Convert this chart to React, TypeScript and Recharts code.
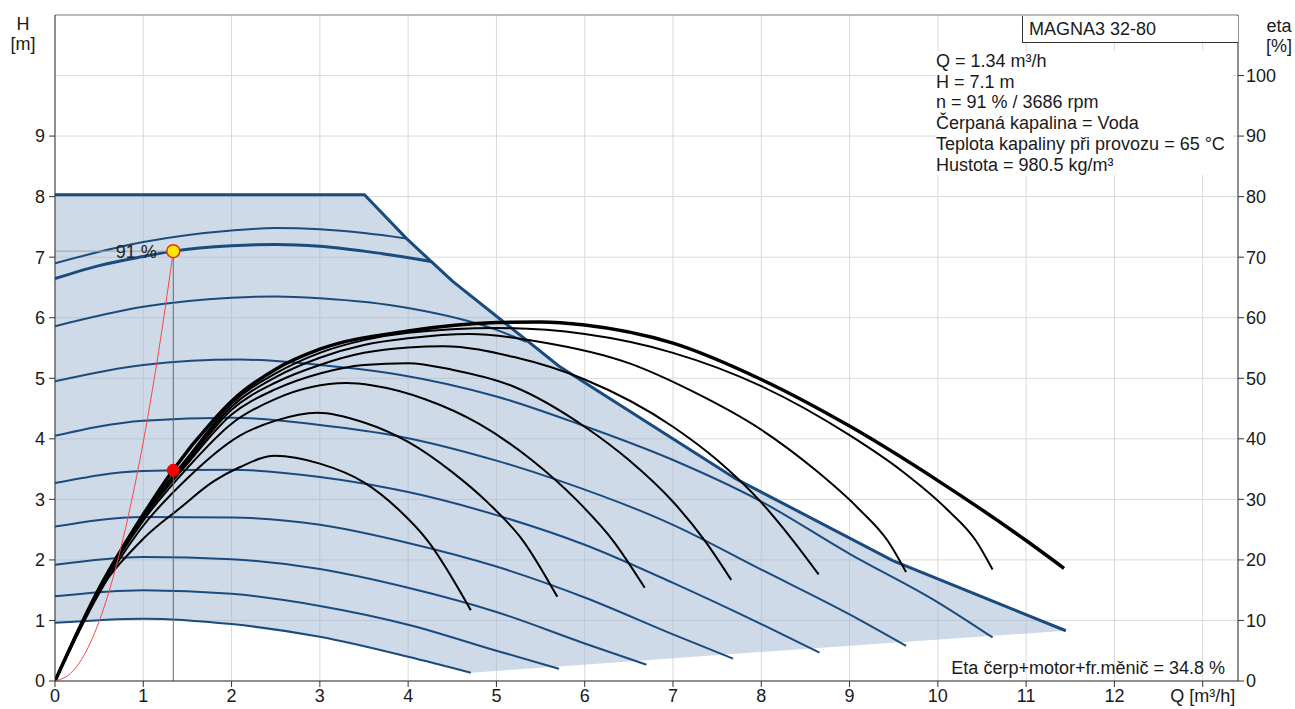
import React from 'react';
import {
  ComposedChart,
  Line,
  Area,
  XAxis,
  YAxis,
  CartesianGrid,
  ReferenceDot,
  ReferenceLine,
} from 'recharts';

type Pt = [number, number];

// axes
const qTicks = [0, 1, 2, 3, 4, 5, 6, 7, 8, 9, 10, 11, 12, 13];
const hTicks = [0, 1, 2, 3, 4, 5, 6, 7, 8, 9];
const etaTicks = [0, 10, 20, 30, 40, 50, 60, 70, 80, 90, 100];

// shaded operating range (low / high boundary, H in m)
const rangeQ = [0, 1, 2, 3, 3.505, 3.98, 4.26, 4.505, 4.71, 5.71, 7.71, 9.49, 11.45];
const rangeLow = [0.96, 1.03, 0.94, 0.73, 0.57, 0.41, 0.32, 0.22, 0.137, 0.24, 0.45, 0.63, 0.83];
const rangeHigh = [8.03, 8.03, 8.03, 8.03, 8.03, 7.31, 6.93, 6.6, 6.36, 5.2, 3.34, 1.99, 0.83];

// QH curves [Q, H]
const qhMax: Pt[] = [[0, 8.03], [3.505, 8.03], [3.98, 7.31], [4.26, 6.93], [4.505, 6.6], [5.71, 5.2], [7.71, 3.34], [9.49, 1.99], [11.45, 0.83]];
const qhA: Pt[] = [[0, 6.9], [1, 7.25], [2, 7.44], [2.5, 7.48], [3, 7.46], [3.5, 7.4], [3.98, 7.31]];
const qhDuty: Pt[] = [[0, 6.645], [0.5, 6.86], [1, 7.01], [1.34, 7.1], [2, 7.19], [2.5, 7.21], [3, 7.18], [3.5, 7.1], [4.26, 6.93]];
const qhC: Pt[] = [[0, 5.86], [1, 6.18], [2, 6.33], [2.5, 6.35], [3, 6.32], [4, 6.16], [5, 5.8], [5.34, 5.6]];
const qhD: Pt[] = [[0, 4.95], [1, 5.22], [2.09, 5.31], [3, 5.22], [3.9, 5.06], [5, 4.7], [5.94, 4.24], [7, 3.65], [7.98, 2.98], [9, 2.1], [10, 1.3], [10.62, 0.72]];
const qhE: Pt[] = [[0, 4.05], [1, 4.3], [2, 4.35], [3, 4.23], [3.9, 4.04], [5, 3.64], [5.71, 3.31], [7, 2.58], [8, 1.84], [9, 1.1], [9.64, 0.58]];
const qhF: Pt[] = [[0, 3.27], [1, 3.47], [2, 3.49], [3, 3.37], [4, 3.12], [5, 2.74], [6, 2.25], [7, 1.62], [8, 0.94], [8.66, 0.47]];
const qhG: Pt[] = [[0, 2.55], [1, 2.71], [2, 2.7], [3, 2.58], [4, 2.28], [5, 1.89], [6, 1.38], [7, 0.77], [7.68, 0.37]];
const qhH: Pt[] = [[0, 1.92], [1, 2.05], [2, 2.01], [3, 1.85], [4, 1.54], [5, 1.14], [6, 0.62], [6.7, 0.27]];
const qhI: Pt[] = [[0, 1.4], [1, 1.5], [2, 1.44], [3, 1.24], [4, 0.93], [5, 0.5], [5.71, 0.2]];
const qhJ: Pt[] = [[0, 0.96], [1, 1.03], [2, 0.94], [3, 0.73], [4, 0.4], [4.71, 0.137]];

// efficiency curves [Q, eta %]
const eta1: Pt[] = [[0, 0], [0.39, 12.2], [1, 23.5], [1.41, 28.5], [1.8, 33], [2.09, 35.3], [2.49, 37.2], [3, 35.9], [3.5, 32.8], [3.9, 28.2], [4.22, 23.2], [4.71, 11.7]];
const eta2: Pt[] = [[0, 0], [0.5, 14.5], [0.96, 24.9], [1.5, 33.5], [2.09, 40.5], [2.5, 43], [2.97, 44.3], [3.5, 42.7], [4, 39.5], [4.5, 34.5], [4.9, 29.5], [5.3, 23.2], [5.69, 13.9]];
const eta3: Pt[] = [[0, 0], [0.5, 15], [1, 26.5], [1.5, 35.2], [2, 42.5], [2.5, 46.6], [3.3, 49.2], [3.6, 48.8], [4.2, 46.5], [4.8, 42.5], [5.4, 36.5], [5.9, 30], [6.32, 23.2], [6.68, 15.4]];
const eta4: Pt[] = [[0, 0], [0.5, 15.1], [1, 26.9], [1.5, 35.9], [2, 44], [2.5, 48.2], [3, 50.8], [3.5, 52.2], [4, 52.5], [4.5, 51.4], [5.2, 48.6], [6, 42], [6.5, 36.5], [7, 29.6], [7.36, 23.2], [7.66, 16.7]];
const eta5: Pt[] = [[0, 0], [0.5, 15.1], [1, 27], [1.5, 36.2], [2, 44.8], [2.5, 49.3], [3, 52.2], [3.5, 54.2], [4, 55.1], [4.4, 55.3], [5.2, 53.5], [6, 49.8], [7, 42], [7.5, 36.5], [8, 29.5], [8.36, 23.2], [8.65, 17.6]];
const eta6: Pt[] = [[0, 0], [0.5, 15.2], [1, 27.2], [1.5, 36.6], [2, 45.3], [2.5, 50.2], [3, 53.4], [3.5, 55.5], [4, 56.6], [4.7, 57.3], [5.5, 56], [6.5, 52.5], [7.2, 48], [8, 41.5], [8.6, 35], [9.1, 28.5], [9.43, 23.2], [9.64, 18]];
const eta7: Pt[] = [[0, 0], [0.5, 15.2], [1, 27.4], [1.5, 36.9], [2, 45.8], [2.5, 50.8], [3, 54.2], [3.5, 56.3], [4, 57.5], [5, 58.3], [6, 57.3], [7, 54.2], [8, 48.7], [9, 40.6], [9.6, 34.6], [10.1, 28.4], [10.43, 23.2], [10.62, 18.4]];
const etaMax: Pt[] = [[0, 0], [0.5, 15.3], [1, 27.5], [1.34, 34.9], [1.79, 43], [2, 46.2], [2.5, 51.5], [3, 54.8], [4, 57.8], [5, 59.2], [5.5, 59.3], [6, 58.8], [7, 55.8], [8, 49.8], [9, 42.1], [10, 33.1], [11, 23.2], [11.43, 18.6]];

// system curve through the duty point
const systemCurve: Pt[] = [[0, 0], [0.2, 0.16], [0.4, 0.63], [0.6, 1.42], [0.8, 2.53], [1, 3.95], [1.2, 5.69], [1.34, 7.1]];

const duty = { q: 1.34, h: 7.1, eta: 34.8, speed: '91 %' };

const infoLines = [
  'Q = 1.34 m³/h',
  'H = 7.1 m',
  'n = 91 % / 3686 rpm',
  'Čerpaná kapalina = Voda',
  'Teplota kapaliny při provozu = 65 °C',
  'Hustota = 980.5 kg/m³',
];

const blue = '#1a4b7e';
const font = '"Liberation Sans", Arial, sans-serif';
const textColor = '#1a1a1a';
const fs = 18;

const toPts = (arr: Pt[], key: string) => arr.map(([q, v]) => ({ q, [key]: v }));
const rangeData = rangeQ.map((q, i) => ({ q, band: [rangeLow[i], rangeHigh[i]] }));

const qhThin = [qhA, qhC, qhD, qhE, qhF, qhG, qhH, qhI, qhJ];
const etaThin = [eta1, eta2, eta3, eta4, eta5, eta6, eta7];

const tickStyle = { fill: textColor, fontSize: fs, fontFamily: font };

const App: React.FC = () => {
  return (
    <div style={{ position: 'absolute', left: 0, top: 0, width: 1295, height: 709, background: '#fff', fontFamily: font, color: textColor }}>
      <ComposedChart width={1295} height={709} margin={{ top: 15, right: 0, bottom: 0, left: 0 }}>
        <CartesianGrid yAxisId="eta" stroke="#d9d9d9" />
        <XAxis
          type="number"
          dataKey="q"
          domain={[0, 13.4]}
          ticks={qTicks}
          interval={0}
          allowDataOverflow
          height={28}
          tickSize={6}
          tickMargin={2}
          stroke="#333"
          tick={tickStyle}
          tickFormatter={(v: number) => (v === 13 ? 'Q [m³/h]' : String(v))}
        />
        <YAxis
          yAxisId="h"
          type="number"
          domain={[0, 11]}
          ticks={hTicks}
          interval={0}
          allowDataOverflow
          width={55}
          tickSize={6}
          tickMargin={4}
          stroke="#333"
          tick={tickStyle}
        />
        <YAxis
          yAxisId="eta"
          orientation="right"
          type="number"
          domain={[0, 110]}
          ticks={etaTicks}
          interval={0}
          allowDataOverflow
          width={57}
          tickSize={6}
          tickMargin={2}
          stroke="#333"
          tick={tickStyle}
        />
        <ReferenceLine yAxisId="h" y={11} stroke="#8a8a8a" />

        <Area
          data={rangeData}
          dataKey="band"
          yAxisId="h"
          type="linear"
          stroke="none"
          fill="#9db6d0"
          fillOpacity={0.5}
          isAnimationActive={false}
        />

        {qhThin.map((c, i) => (
          <Line
            key={`qh${i}`}
            data={toPts(c, 'h')}
            dataKey="h"
            yAxisId="h"
            type="monotone"
            stroke={blue}
            strokeWidth={2}
            dot={false}
            activeDot={false}
            isAnimationActive={false}
          />
        ))}
        <Line data={toPts(qhDuty, 'h')} dataKey="h" yAxisId="h" type="monotone" stroke={blue} strokeWidth={3} dot={false} activeDot={false} isAnimationActive={false} />
        <Line data={toPts(qhMax, 'h')} dataKey="h" yAxisId="h" type="linear" stroke={blue} strokeWidth={3} dot={false} activeDot={false} isAnimationActive={false} />

        {etaThin.map((c, i) => (
          <Line
            key={`eta${i}`}
            data={toPts(c, 'eta')}
            dataKey="eta"
            yAxisId="eta"
            type="monotone"
            stroke="#000"
            strokeWidth={2}
            dot={false}
            activeDot={false}
            isAnimationActive={false}
          />
        ))}
        <Line data={toPts(etaMax, 'eta')} dataKey="eta" yAxisId="eta" type="monotone" stroke="#000" strokeWidth={3.5} dot={false} activeDot={false} isAnimationActive={false} />

        <Line data={toPts(systemCurve, 'h')} dataKey="h" yAxisId="h" type="monotone" stroke="#ff4545" strokeWidth={1} dot={false} activeDot={false} isAnimationActive={false} />

        <ReferenceLine yAxisId="h" segment={[{ x: 0, y: duty.h }, { x: duty.q, y: duty.h }]} stroke="#a0a0a0" />
        <ReferenceLine yAxisId="h" segment={[{ x: duty.q, y: 0 }, { x: duty.q, y: duty.h }]} stroke="#6a6a6a" />

        <ReferenceDot yAxisId="eta" x={duty.q} y={duty.eta} r={6} fill="#ff0000" stroke="#ee0000" />
        <ReferenceDot
          yAxisId="h"
          x={duty.q}
          y={duty.h}
          r={6.5}
          fill="#ffe600"
          stroke="#e0301a"
          strokeWidth={1.5}
          label={{ value: duty.speed, position: 'left', offset: 10, fontSize: fs, fill: '#222', fontFamily: font }}
        />
      </ComposedChart>

      {/* axis titles */}
      <div style={{ position: 'absolute', left: 0, top: 14, width: 46, textAlign: 'center', fontSize: fs, lineHeight: '20px' }}>
        H<br />[m]
      </div>
      <div style={{ position: 'absolute', left: 1254, top: 16, width: 50, textAlign: 'center', fontSize: fs, lineHeight: '20px' }}>
        eta<br />[%]
      </div>

      {/* pump name box */}
      <div style={{ position: 'absolute', left: 1022, top: 16, width: 209, height: 26, background: '#fff', borderLeft: '1px solid #333', borderBottom: '1px solid #333', paddingLeft: 6, fontSize: fs, lineHeight: '26px', whiteSpace: 'nowrap' }}>
        MAGNA3 32-80
      </div>

      {/* duty info */}
      <div style={{ position: 'absolute', left: 936, top: 51, width: 297, background: '#fff', fontSize: fs, lineHeight: '20.7px', whiteSpace: 'nowrap' }}>
        {infoLines.map((t) => (
          <div key={t}>{t}</div>
        ))}
      </div>

      <div style={{ position: 'absolute', left: 860, top: 658, width: 365, textAlign: 'right', fontSize: fs, lineHeight: '20px', whiteSpace: 'nowrap' }}>
        Eta čerp+motor+fr.měnič = 34.8 %
      </div>
    </div>
  );
};

export default App;
